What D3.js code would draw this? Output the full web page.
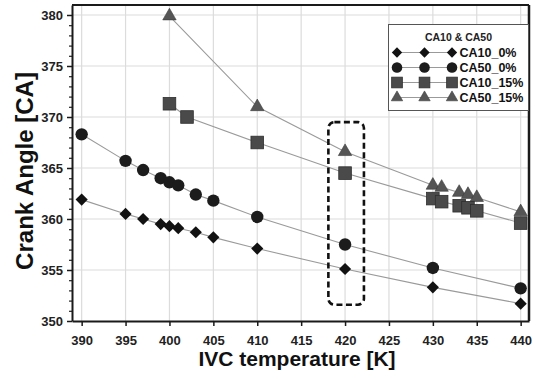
<!DOCTYPE html>
<html><head><meta charset="utf-8">
<script src="https://cdn.jsdelivr.net/npm/d3@7"></script>
<style>body{margin:0;background:#fff}svg{display:block}text{font-family:"Liberation Sans",Arial,sans-serif;font-weight:bold}</style>
</head><body>
<svg id="c" width="539" height="379"></svg>
<script>
const xTicks = [390,395,400,405,410,415,420,425,430,435,440];
const yTicks = [350,355,360,365,370,375,380];
const temps0 = [390,395,397,399,400,401,403,405,410,420,430,440];
const ca10_0 = [361.9,360.5,360.0,359.5,359.3,359.1,358.7,358.2,357.1,355.1,353.3,351.7];
const ca50_0 = [368.3,365.7,364.8,364.0,363.6,363.3,362.4,361.8,360.2,357.5,355.2,353.2];
const tempsCA10_15 = [400,402,410,420,430,431,433,434,435,440];
const ca10_15 = [371.3,370.0,367.5,364.5,362.0,361.7,361.3,361.1,360.8,359.6];
const tempsCA50_15 = [400,410,420,430,431,433,434,435,440];
const ca50_15 = [379.9,371.0,366.6,363.3,363.1,362.6,362.4,362.1,360.7];
const seriesNames = ["CA10_0%","CA50_0%","CA10_15%","CA50_15%"];
const legendTitle = "CA10 & CA50";
const highlight = {x0:418.1, x1:422.15, y0:351.6, y1:369.5};

const svg = d3.select("#c");
const L=72,R=529,T=5,B=321;
const x = d3.scaleLinear().domain([388.9,440.95]).range([L,R]);
const y = d3.scaleLinear().domain([350,380.98]).range([B,T]);

// grid
const g = svg.append("g");
g.selectAll("line.vx").data(xTicks).join("line")
 .attr("x1",d=>x(d)).attr("x2",d=>x(d)).attr("y1",T).attr("y2",B)
 .attr("stroke","#dcdcdc").attr("stroke-width",1.2);
g.selectAll("line.hy").data(yTicks.filter(d=>d>350)).join("line")
 .attr("y1",d=>y(d)).attr("y2",d=>y(d)).attr("x1",L).attr("x2",R)
 .attr("stroke","#dcdcdc").attr("stroke-width",1.2);

// frame top/right
svg.append("line").attr("x1",L).attr("x2",R).attr("y1",T).attr("y2",T).attr("stroke","#1a1a1a").attr("stroke-width",2);
svg.append("line").attr("x1",R).attr("x2",R).attr("y1",T).attr("y2",B).attr("stroke","#1a1a1a").attr("stroke-width",2.5);

// axes
const minor = d3.range(351,381,1).filter(d=>d%5!==0);
svg.append("g").attr("transform",`translate(${L},0)`)
 .call(d3.axisLeft(y).tickValues(minor).tickSize(3).tickFormat(""))
 .call(a=>a.select(".domain").remove())
 .call(a=>a.selectAll("line").attr("stroke","#222").attr("stroke-width",1.2));
const ya = svg.append("g").attr("transform",`translate(${L},0)`)
 .call(d3.axisLeft(y).tickValues(yTicks).tickSize(5).tickPadding(4).tickSizeOuter(0));
const xa = svg.append("g").attr("transform",`translate(0,${B})`)
 .call(d3.axisBottom(x).tickValues(xTicks).tickSize(5).tickPadding(10).tickSizeOuter(0));
[ya,xa].forEach(a=>{
  a.select(".domain").attr("stroke","#1a1a1a").attr("stroke-width",2);
  a.selectAll(".tick line").attr("stroke","#1a1a1a").attr("stroke-width",1.5);
  a.selectAll("text").attr("fill","#222").style("font-size","13px").style("font-family","'Liberation Sans',Arial,sans-serif").style("font-weight","bold");
});

// axis titles
svg.append("text").attr("x",297).attr("y",366).attr("text-anchor","middle")
 .style("font-size","21px").attr("fill","#111").text("IVC temperature [K]");
svg.append("text").attr("transform","translate(33,171) rotate(-90)").attr("text-anchor","middle")
 .style("font-size","24px").attr("fill","#111").text("Crank Angle [CA]");

// series
const series = [
 {t:temps0, v:ca10_0, sym:"diamond"},
 {t:temps0, v:ca50_0, sym:"circle"},
 {t:tempsCA50_15, v:ca50_15, sym:"triangle"},
 {t:tempsCA10_15, v:ca10_15, sym:"square"}
];
const line = d3.line().x(d=>x(d[0])).y(d=>y(d[1]));
series.forEach(s=>{
  svg.append("path").attr("d",line(s.t.map((t,i)=>[t,s.v[i]])))
   .attr("fill","none").attr("stroke","#9a9a9a").attr("stroke-width",1.1);
});
function drawSym(sel, sym, scale){
  scale = scale||1;
  if(sym==="diamond"){
    sel.append("path").attr("d",d3.symbol(d3.symbolSquare, 74*scale*scale)())
     .attr("transform","rotate(45)").attr("fill","#121212");
  } else if(sym==="circle"){
    sel.append("circle").attr("r",6.2*scale).attr("fill","#1c1c1c");
  } else if(sym==="square"){
    const h=6.3*scale;
    sel.append("rect").attr("x",-h).attr("y",-h).attr("width",2*h).attr("height",2*h)
     .attr("fill","#4a4a4a").attr("stroke","#2e2e2e").attr("stroke-width",0.8);
  } else {
    sel.append("path").attr("d",d3.symbol(d3.symbolTriangle, 78*scale*scale)())
     .attr("fill","#555").attr("stroke","#3a3a3a").attr("stroke-width",0.6);
  }
}
series.forEach(s=>{
  s.t.forEach((t,i)=>{
    const gg = svg.append("g").attr("transform",`translate(${x(t)},${y(s.v[i])})`);
    drawSym(gg, s.sym);
  });
});

// highlight box
svg.append("rect").attr("x",x(highlight.x0)).attr("y",y(highlight.y1))
 .attr("width",x(highlight.x1)-x(highlight.x0)).attr("height",y(highlight.y0)-y(highlight.y1))
 .attr("rx",6).attr("ry",6).attr("fill","none").attr("stroke","#111")
 .attr("stroke-width",2.6).attr("stroke-dasharray","6,3.5");

// legend
const lg = svg.append("g");
lg.append("rect").attr("x",388.5).attr("y",24.5).attr("width",140).attr("height",86)
 .attr("fill","#fff").attr("stroke","#555").attr("stroke-width",1);
lg.append("text").attr("x",458.5).attr("y",40.5).attr("text-anchor","middle")
 .style("font-size","10.5px").attr("fill","#222").text(legendTitle);
const legSyms = ["diamond","circle","square","triangle"];
seriesNames.forEach((n,i)=>{
  const yy = 52.5 + i*15;
  lg.append("line").attr("x1",397).attr("x2",452).attr("y1",yy).attr("y2",yy)
   .attr("stroke","#9a9a9a").attr("stroke-width",1.1);
  [397,424.5,452].forEach(xx=>{
    const gg = lg.append("g").attr("transform",`translate(${xx},${yy})`);
    drawSym(gg, legSyms[i], 0.85);
  });
  lg.append("text").attr("x",459.5).attr("y",yy+4.5).style("font-size","12.5px")
   .attr("fill","#111").text(n);
});
</script>
</body></html>
